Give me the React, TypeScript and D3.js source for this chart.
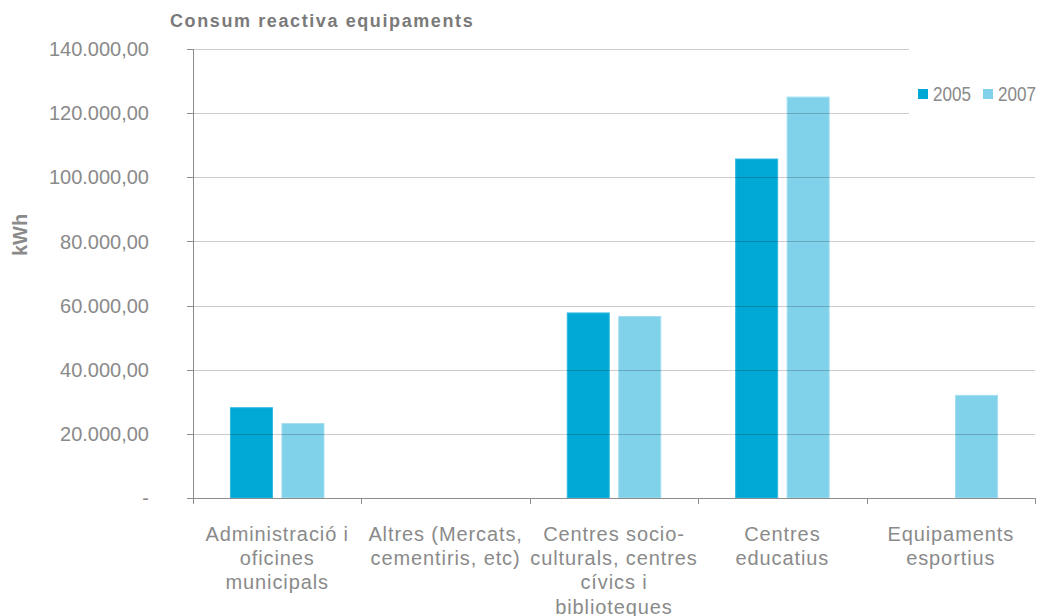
import React from "react";
import * as d3 from "d3";

const categories = [
  "Administració i oficines municipals",
  "Altres (Mercats, cementiris, etc)",
  "Centres socio-culturals, centres cívics i biblioteques",
  "Centres educatius",
  "Equipaments esportius",
];
const categoryLines = [
  ["Administració i", "oficines", "municipals"],
  ["Altres (Mercats,", "cementiris, etc)"],
  ["Centres socio-", "culturals, centres", "cívics i", "biblioteques"],
  ["Centres", "educatius"],
  ["Equipaments", "esportius"],
];
const seriesNames = ["2005", "2007"];
const values2005 = [28150, 0, 57700, 105700, 0];
const values2007 = [23200, 0, 56600, 125000, 32000];
const yTicks = [0, 20000, 40000, 60000, 80000, 100000, 120000, 140000];
const title = "Consum reactiva equipaments";
const yLabel = "kWh";

const colors = ["#00A8D6", "#80D1EA"];
const strokes = ["#33B9DF", "#A3DEF0"];

const W = 1041;
const H = 616;
const left = 193;
const right = 1035;
const top = 49;
const bottom = 498;

const fmt = (v: number) => {
  if (v === 0) return "-";
  const s = d3.format(",.2f")(v);
  return s.replace(/,/g, "#").replace(/\./g, ",").replace(/#/g, ".");
};

export default function App() {
  const x0 = d3.scaleBand<string>().domain(categories).range([left, right]).paddingInner(0).paddingOuter(0);
  const x1 = d3
    .scaleBand<string>()
    .domain(seriesNames)
    .range([0, x0.bandwidth()])
    .paddingInner(0.184)
    .paddingOuter(0.727);
  const y = d3.scaleLinear().domain([0, 140000]).range([bottom, top]);
  const seriesValues = [values2005, values2007];
  const textColor = "#8a8a8a";
  const axisColor = "#8c8c8c";
  const font = "'Liberation Sans', Arial, sans-serif";
  const boundaries = [...categories.map((c) => x0(c) as number), right];

  return (
    <svg
      width={W}
      height={H}
      style={{ position: "absolute", left: 0, top: 0, background: "#fff" }}
      fontFamily={font}
    >
      <rect x={0} y={0} width={W} height={H} fill="#fff" />
      {/* bars */}
      {seriesNames.map((s, si) =>
        categories.map((c, ci) => {
          const v = seriesValues[si][ci];
          if (!v) return null;
          const bx = (x0(c) as number) + (x1(s) as number);
          return (
            <rect
              key={s + c}
              x={bx}
              y={y(v)}
              width={x1.bandwidth()}
              height={bottom - y(v)}
              fill={colors[si]}
              stroke={strokes[si]}
              strokeWidth={1}
            />
          );
        })
      )}
      {/* gridlines */}
      {yTicks
        .filter((t) => t > 0)
        .map((t) => (
          <line
            key={t}
            x1={left}
            x2={right}
            y1={Math.round(y(t)) + 0.5}
            y2={Math.round(y(t)) + 0.5}
            stroke="#000"
            strokeOpacity={0.2}
            strokeWidth={1}
          />
        ))}
      {/* y axis */}
      <line x1={left + 0.5} x2={left + 0.5} y1={top} y2={bottom + 6} stroke={axisColor} />
      {yTicks.map((t) => (
        <g key={"yt" + t}>
          <line
            x1={left - 6}
            x2={left}
            y1={Math.round(y(t)) + 0.5}
            y2={Math.round(y(t)) + 0.5}
            stroke={axisColor}
          />
          <text
            x={149}
            y={y(t)}
            dy="0.36em"
            textAnchor="end"
            fontSize={20}
            fill={textColor}
          >
            {fmt(t)}
          </text>
        </g>
      ))}
      {/* x axis */}
      <line x1={left} x2={right} y1={bottom + 0.5} y2={bottom + 0.5} stroke={axisColor} />
      {boundaries.map((b, i) => (
        <line
          key={"xb" + i}
          x1={Math.round(b) + 0.5}
          x2={Math.round(b) + 0.5}
          y1={bottom}
          y2={bottom + 6}
          stroke={axisColor}
        />
      ))}
      {categories.map((c, ci) => (
        <text
          key={"xl" + c}
          x={(x0(c) as number) + x0.bandwidth() / 2}
          y={541}
          textAnchor="middle"
          fontSize={20}
          letterSpacing={0.9}
          fill={textColor}
        >
          {categoryLines[ci].map((ln, li) => (
            <tspan key={li} x={(x0(c) as number) + x0.bandwidth() / 2} dy={li === 0 ? 0 : 24.2}>
              {ln}
            </tspan>
          ))}
        </text>
      ))}
      {/* legend */}
      <rect x={909} y={38} width={132} height={100} fill="#fff" />
      {seriesNames.map((s, si) => (
        <g key={"lg" + s} transform={`translate(${918 + si * 65},89)`}>
          <rect x={0} y={0} width={10} height={10} fill={colors[si]} />
          <text
            x={15}
            y={5}
            dy="0.36em"
            fontSize={20}
            textLength={38}
            lengthAdjust="spacingAndGlyphs"
            fill={textColor}
          >
            {s}
          </text>
        </g>
      ))}
      {/* title */}
      <text x={170} y={27} fontSize={18} fontWeight="bold" fill="#7a7a7a" letterSpacing={1.6}>
        {title}
      </text>
      {/* y label */}
      <text
        transform={`translate(27,235) rotate(-90)`}
        textAnchor="middle"
        fontSize={20}
        fontWeight="bold"
        fill="#8a8a8a"
      >
        {yLabel}
      </text>
    </svg>
  );
}
